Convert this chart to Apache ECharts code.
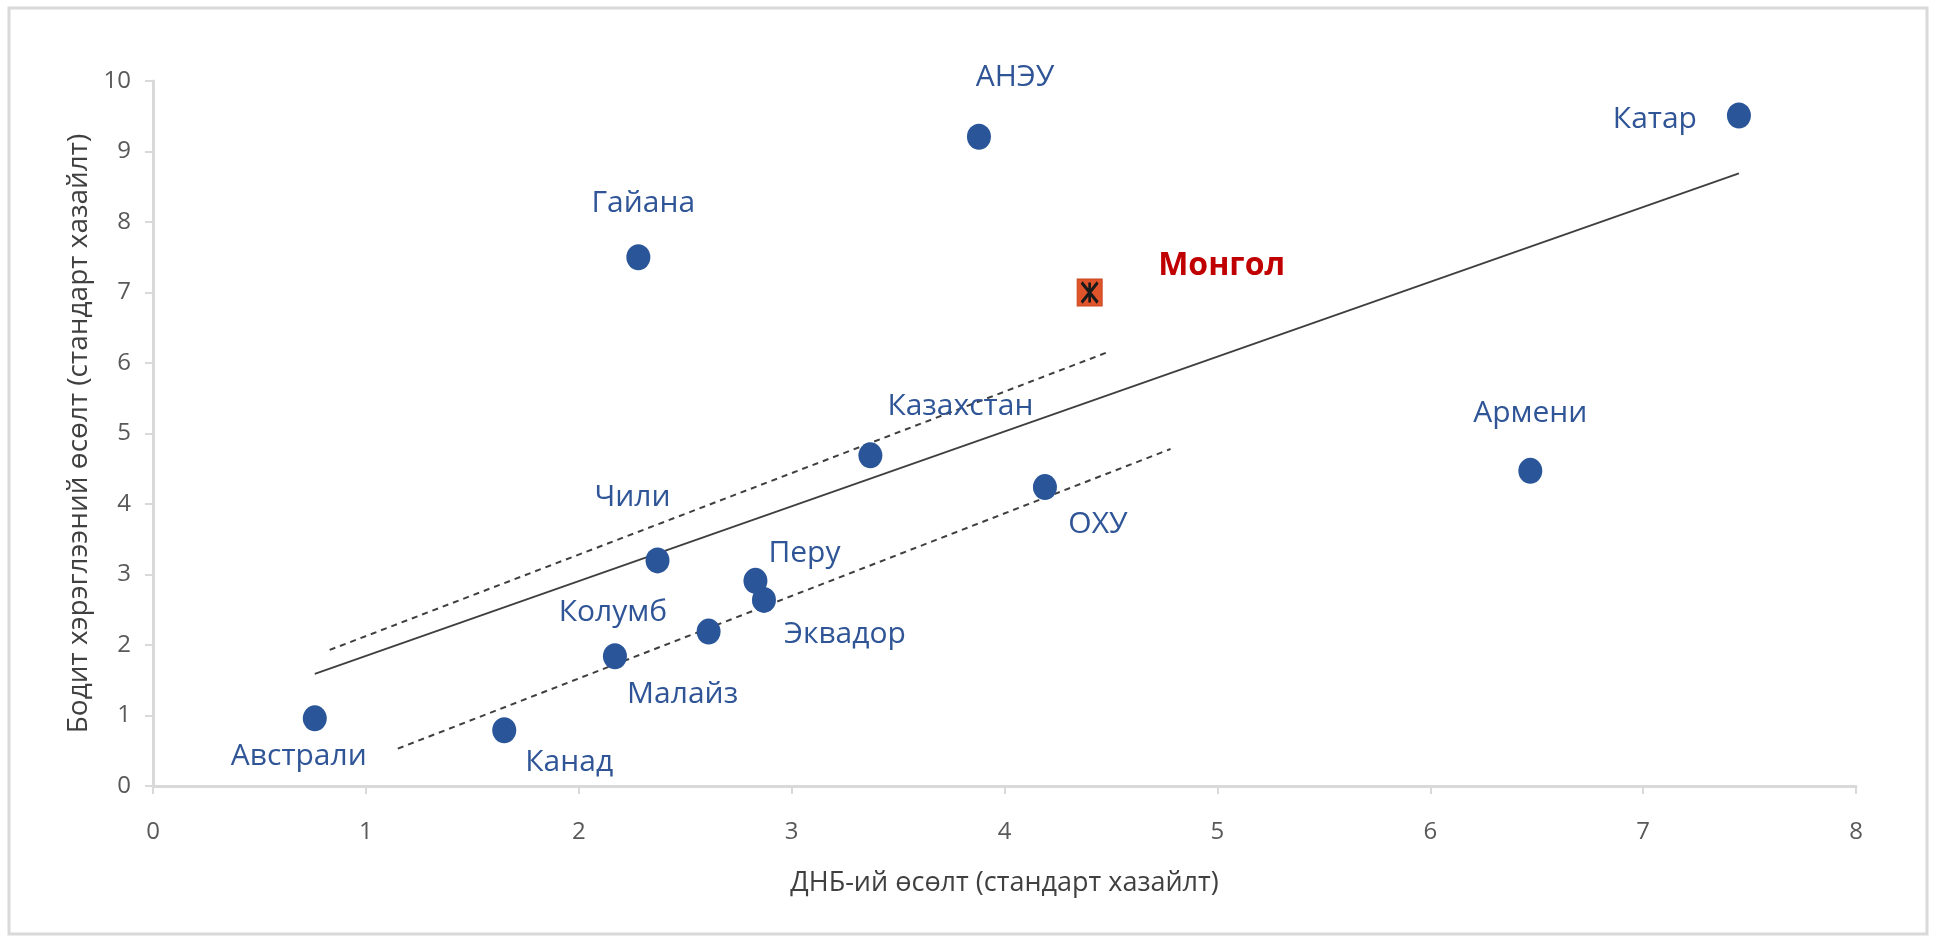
<!DOCTYPE html>
<html>
<head>
<meta charset="utf-8">
<script src="https://cdn.jsdelivr.net/npm/echarts@6/dist/echarts.min.js"></script>
<style>
  html, body { margin: 0; padding: 0; background: #ffffff; }
  #chart { width: 1935px; height: 940px; }
</style>
</head>
<body>
<div id="chart"></div>
<script>
const countries = ['Австрали', 'Канад', 'Колумб', 'Малайз', 'Чили', 'Перу', 'Эквадор', 'Гайана', 'Казахстан', 'АНЭУ', 'ОХУ', 'Армени', 'Катар']
const gdpGrowth = [0.76, 1.65, 2.17, 2.61, 2.37, 2.83, 2.87, 2.28, 3.37, 3.88, 4.19, 6.47, 7.45]
const consumptionGrowth = [0.96, 0.79, 1.84, 2.19, 3.2, 2.91, 2.64, 7.5, 4.69, 9.21, 4.24, 4.47, 9.51]

const mongoliaName = 'Монгол'
const mongoliaGdp = 4.4
const mongoliaConsumption = 7.0

const trendX = [0.76, 7.45]
const trendY = [1.59, 8.69]
const upperX = [0.83, 4.49]
const upperY = [1.93, 6.16]
const lowerX = [1.15, 4.78]
const lowerY = [0.53, 4.78]

const xTicks = [0, 1, 2, 3, 4, 5, 6, 7, 8]
const yTicks = [0, 1, 2, 3, 4, 5, 6, 7, 8, 9, 10]

const POINT_COLOR = '#2A5699'
const LABEL_COLOR = '#2F5597'
const AXIS_COLOR = '#D9D9D9'
const TEXT_COLOR = '#595959'
const LINE_COLOR = '#3F3F3F'
const FONT = '"Open Sans", "Noto Sans", sans-serif'

// label placement around each point, [dx, dy] in pixels
const labelOffsets = {
  'Австрали': [-16, 38],
  'Канад': [65, 32],
  'Колумб': [-2, -44],
  'Малайз': [-26, 63],
  'Чили': [-25, -63],
  'Перу': [49, -27],
  'Эквадор': [81, 35],
  'Гайана': [5, -54],
  'Казахстан': [90, -49],
  'АНЭУ': [36, -59],
  'ОХУ': [53, 37],
  'Армени': [0, -57],
  'Катар': [-84, 4]
}

const chart = echarts.init(document.getElementById('chart'))

const countryData = countries.map((name, i) => ({
  name,
  value: [gdpGrowth[i], consumptionGrowth[i]],
  label: {
    show: true,
    formatter: name,
    position: 'inside',
    offset: labelOffsets[name],
    color: LABEL_COLOR,
    fontSize: 30,
    fontFamily: FONT
  }
}))

const lineSeries = (xs, ys, type, width) => ({
  type: 'line',
  data: xs.map((x, i) => [x, ys[i]]),
  symbol: 'none',
  silent: true,
  z: 1,
  lineStyle: { color: LINE_COLOR, width, type }
})

chart.setOption({
  animation: false,
  backgroundColor: '#ffffff',
  graphic: [
    {
      type: 'rect',
      shape: { x: 9, y: 8, width: 1918, height: 926 },
      style: { fill: 'none', stroke: AXIS_COLOR, lineWidth: 3 },
      silent: true
    }
  ],
  grid: { left: 153, right: 79, top: 81, bottom: 154 },
  xAxis: {
    type: 'value',
    min: xTicks[0],
    max: xTicks[xTicks.length - 1],
    interval: 1,
    name: 'ДНБ-ий өсөлт (стандарт хазайлт)',
    nameLocation: 'middle',
    nameGap: 84,
    nameTextStyle: { color: '#404040', fontSize: 27, fontFamily: FONT },
    axisLine: { lineStyle: { color: AXIS_COLOR, width: 3 } },
    axisTick: { show: true, length: 8, lineStyle: { color: AXIS_COLOR, width: 2 } },
    axisLabel: { color: TEXT_COLOR, fontSize: 24, fontFamily: FONT, margin: 34 },
    splitLine: { show: false }
  },
  yAxis: {
    type: 'value',
    min: yTicks[0],
    max: yTicks[yTicks.length - 1],
    interval: 1,
    name: 'Бодит хэрэглээний өсөлт (стандарт хазайлт)',
    nameLocation: 'middle',
    nameGap: 52,
    nameRotate: 90,
    nameTextStyle: { color: '#404040', fontSize: 28, fontFamily: FONT },
    axisLine: { show: true, lineStyle: { color: AXIS_COLOR, width: 3 } },
    axisTick: { show: true, length: 8, lineStyle: { color: AXIS_COLOR, width: 2 } },
    axisLabel: { color: TEXT_COLOR, fontSize: 24, fontFamily: FONT, margin: 22 },
    splitLine: { show: false }
  },
  series: [
    lineSeries(trendX, trendY, 'solid', 1.8),
    lineSeries(upperX, upperY, [6, 5], 2),
    lineSeries(lowerX, lowerY, [6, 5], 2),
    {
      type: 'scatter',
      symbol: 'circle',
      symbolSize: [24, 26],
      z: 3,
      itemStyle: { color: POINT_COLOR, opacity: 1 },
      data: countryData
    },
    {
      type: 'scatter',
      symbol: 'rect',
      symbolSize: [25, 27],
      z: 4,
      itemStyle: { color: '#E0542C', borderColor: '#C8461F', borderWidth: 1, opacity: 1 },
      label: {
        show: true,
        formatter: mongoliaName,
        position: 'inside',
        offset: [132, -27],
        color: '#C00000',
        fontSize: 32,
        fontWeight: 'bold',
        fontFamily: FONT
      },
      data: [[mongoliaGdp, mongoliaConsumption]]
    },
    {
      type: 'scatter',
      symbol: 'path://M0,0 L10,12 M10,0 L0,12 M5,0 L5,12',
      symbolSize: [16, 20],
      z: 5,
      silent: true,
      itemStyle: { color: 'none', borderColor: '#1a1a1a', borderWidth: 3, opacity: 1 },
      data: [[mongoliaGdp, mongoliaConsumption]]
    }
  ]
})
</script>
</body>
</html>
